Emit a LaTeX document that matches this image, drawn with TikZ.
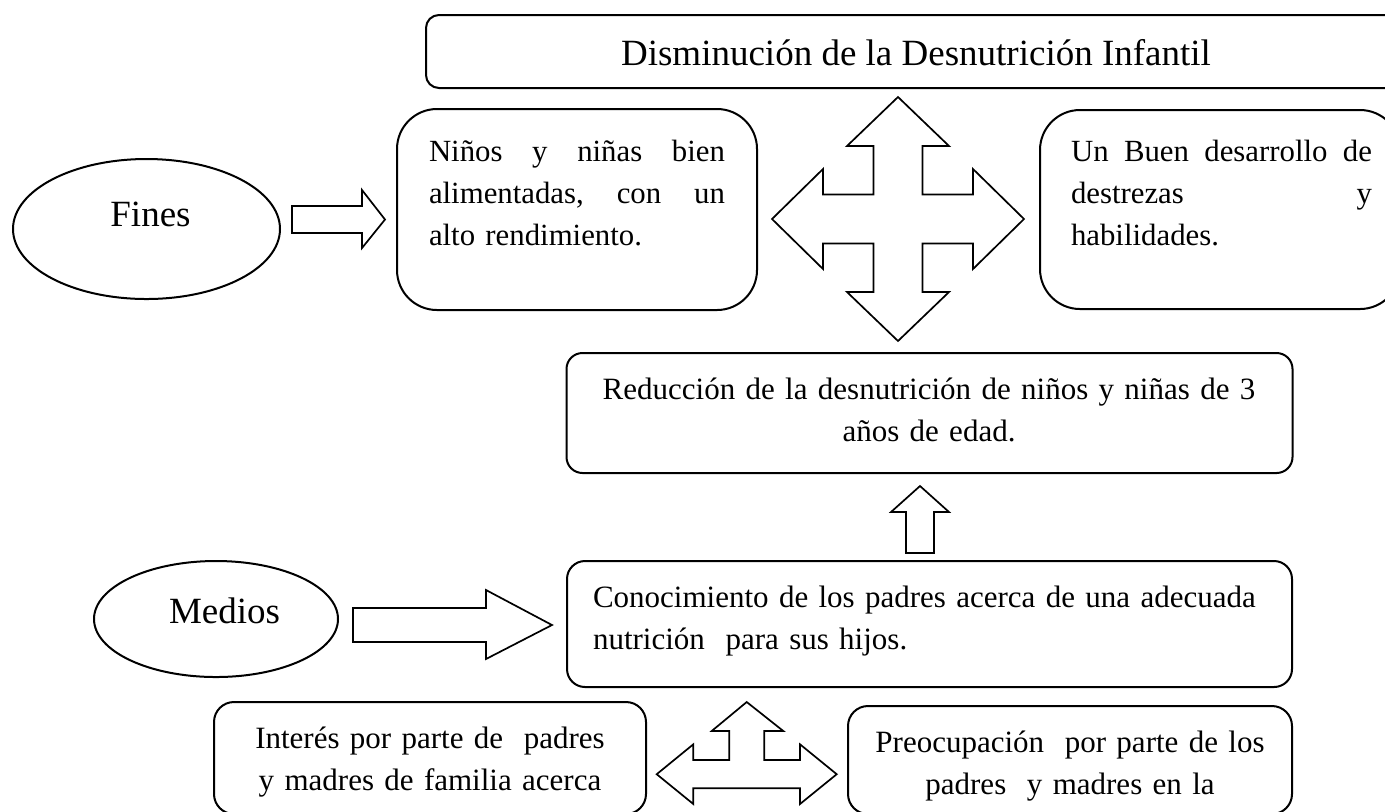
\documentclass[tikz,border=0pt]{standalone}
\usepackage{fontspec}
\setmainfont{Liberation Serif}
\usetikzlibrary{shapes.geometric}
\newcommand\fontA{\fontsize{15.4pt}{21pt}\selectfont}
\newcommand\fontB{\fontsize{15.5pt}{21pt}\selectfont}
\newcommand\fontT{\fontsize{18.5pt}{22pt}\selectfont}
\tikzset{
  box/.style={draw, line width=1pt, inner sep=0pt},
  oval/.style={draw, ellipse, line width=1pt, inner sep=0pt},
  blockarrow/.style={draw, line width=0.85pt, line join=miter, fill=white},
  txt/.style={inner sep=0pt, outer sep=0pt},
}
\begin{document}
\begin{tikzpicture}[x=0.5pt,y=-0.5pt]
\useasboundingbox (0,0) rectangle (1385,811);
\clip (0,0) rectangle (1385,811);
\fill[white] (0,0) rectangle (1385,811);

% title box
\node[box, rounded corners=6.5pt, minimum width=490pt, minimum height=36.5pt] (title) at (916,51.5) {};
\node[txt, anchor=base, font=\fontT] (titleT) at (916,65) {Disminución de la Desnutrición Infantil};

% Fines
\node[oval, minimum width=133.5pt, minimum height=70pt] (fines) at (146.5,229) {};
\node[txt, anchor=base, font=\fontT] (finesT) at (150.5,226) {Fines};
\draw[blockarrow] (292,206) -- (362,206) -- (362,190) -- (385,219.5) -- (362,248) -- (362,233) -- (292,233) -- cycle;

% Ninos box
\node[box, rounded corners=20pt, minimum width=180pt, minimum height=100.5pt] (ninos) at (577,209.5) {};
\node[txt, anchor=base west, font=\fontA, text width=148pt, align=left] (ninosT) at (429,161)
  {Niños\hfill y\hfill niñas\hfill bien\\alimentadas,\hfill con\hfill un\\alto rendimiento.};

% four-way arrow
\draw[blockarrow] (898,97) -- (949,146) -- (922.5,146) -- (922.5,194.5) -- (973,194.5) -- (973,169)
  -- (1024,219) -- (973,269) -- (973,243.5) -- (922.5,243.5) -- (922.5,292) -- (949,292)
  -- (898,341) -- (847,292) -- (873.5,292) -- (873.5,243.5) -- (823,243.5) -- (823,269)
  -- (772,219) -- (823,169) -- (823,194.5) -- (873.5,194.5) -- (873.5,146) -- (847,146) -- cycle;

% Un Buen box
\node[box, rounded corners=20pt, minimum width=180pt, minimum height=99.5pt] (buen) at (1220,209.5) {};
\node[txt, anchor=base west, font=\fontA, text width=150.5pt, align=left] (buenT) at (1071,161)
  {Un\hfill Buen\hfill desarrollo\hfill de\\destrezas\hfill y\\habilidades.};

% Reduccion box
\node[box, rounded corners=8pt, minimum width=363pt, minimum height=60pt] (reduc) at (929.5,413) {};
\node[txt, anchor=base, font=\fontB, text width=345pt, align=center] (reducT) at (929,399)
  {Reducción de la desnutrición de niños y niñas de 3\\años de edad.};

% up arrow
\draw[blockarrow] (920,486) -- (949,512) -- (934,512) -- (934,553) -- (906,553) -- (906,512) -- (891,512) -- cycle;

% Medios
\node[oval, minimum width=122pt, minimum height=58pt] (medios) at (216,619) {};
\node[txt, anchor=base, font=\fontT] (mediosT) at (224.5,623) {Medios};
\draw[blockarrow] (353,608) -- (486,608) -- (486,590) -- (552,625) -- (486,659) -- (486,642) -- (353,642) -- cycle;

% Conocimiento box
\node[box, rounded corners=9pt, minimum width=362.5pt, minimum height=63pt] (conoc) at (929.5,624) {};
\node[txt, anchor=base west, font=\fontB, text width=345pt, align=left] (conocT) at (593,607)
  {Conocimiento de los padres acerca de una adecuada\\nutrición\ \ para sus hijos.};

% three-way arrow
\draw[blockarrow] (746.7,702) -- (783.3,731) -- (764.3,731) -- (764.3,760) -- (800,760) -- (800,744.3)
  -- (836.7,774.2) -- (800,804) -- (800,788.3) -- (693.3,788.3) -- (693.3,804) -- (656.7,774.2)
  -- (693.3,744.3) -- (693.3,760) -- (729.3,760) -- (729.3,731) -- (711.7,731) -- cycle;

% Interes box
\node[box, rounded corners=10pt, minimum width=216pt, minimum height=56pt] (interes) at (430,758) {};
\node[txt, anchor=base, font=\fontB, text width=210pt, align=center] (interesT) at (430,748)
  {Interés por parte de\ \ padres\\y madres de familia acerca};

% Preocupacion box
\node[box, rounded corners=10pt, minimum width=222pt, minimum height=54pt] (preoc) at (1070,760) {};
\node[txt, anchor=base, font=\fontB, text width=215pt, align=center] (preocT) at (1070,752)
  {Preocupación\ \ por parte de los\\padres\ \ y madres en la};
\end{tikzpicture}
\end{document}
